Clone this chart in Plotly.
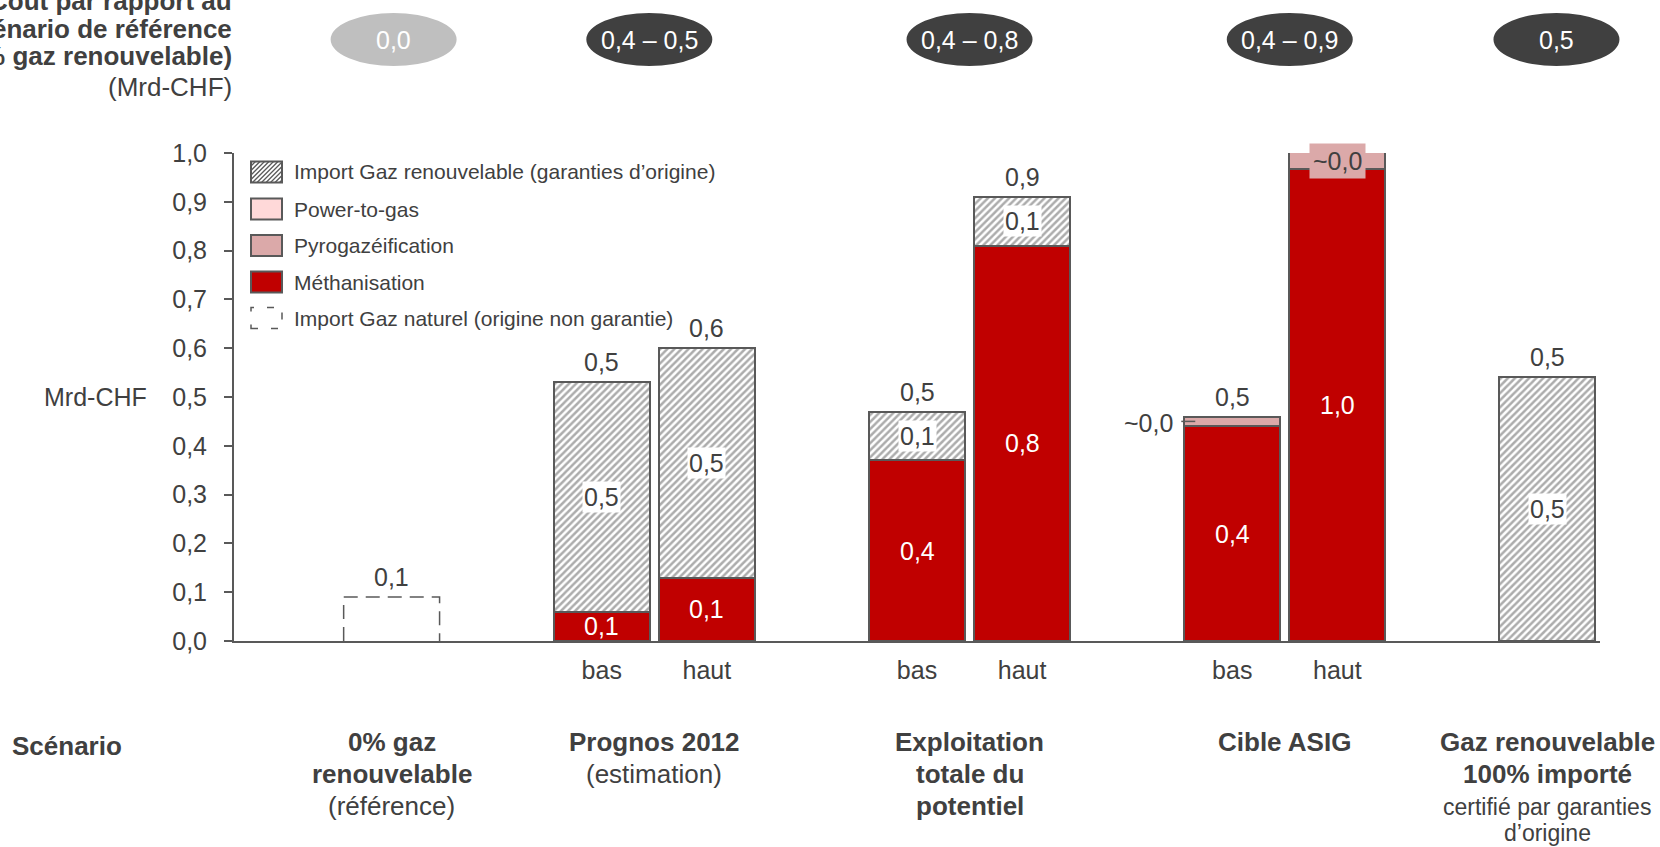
import plotly.graph_objects as go

# ---------------------------------------------------------------- data
bar_x = [2, 3, 5, 6, 8, 9, 11]
bar_ticks = ["bas", "haut", "bas", "haut", "bas", "haut", ""]
methanisation = [0.06, 0.13, 0.37, 0.81, 0.44, 0.967, 0.0]
pyrogazeification = [0.0, 0.0, 0.0, 0.0, 0.02, 0.035, 0.0]
power_to_gas = [0.0, 0.0, 0.0, 0.0, 0.0, 0.0, 0.0]
import_renouvelable = [0.47, 0.47, 0.10, 0.10, 0.0, 0.0, 0.54]

ref_x = 0
import_naturel = 0.09

scenario_x = [0, 2.5, 5.5, 8.5, 11]
cost_ranges = ["0,0", "0,4 – 0,5", "0,4 – 0,8", "0,4 – 0,9", "0,5"]
scenario_lines = [
    [("<b>0% gaz</b>", 26), ("<b>renouvelable</b>", 26), ("(référence)", 26)],
    [("<b>Prognos 2012</b>", 26), ("(estimation)", 26)],
    [("<b>Exploitation</b>", 26), ("<b>totale du</b>", 26), ("<b>potentiel</b>", 26)],
    [("<b>Cible ASIG</b>", 26)],
    [("<b>Gaz renouvelable</b>", 26), ("<b>100% importé</b>", 26),
     ("certifié par garanties", 23), ("d’origine", 23)],
]
legend_items = [
    "Import Gaz renouvelable (garanties d’origine)",
    "Power-to-gas",
    "Pyrogazéification",
    "Méthanisation",
    "Import Gaz naturel (origine non garantie)",
]

# ---------------------------------------------------------------- geometry / style
W, H = 1660, 847
ML, MR, MT, MB = 234, 60, 153, 206
PLOT_W = W - ML - MR
PLOT_H = H - MT - MB
X_RANGE = [-1.5, 11.5]
SLOT_PX = PLOT_W / (X_RANGE[1] - X_RANGE[0])
BW = 0.913

FONT = "Liberation Sans, Arial, sans-serif"
TXT = "#404040"
EDGE = "#595959"
RED = "#C00000"
PYRO_C = "#DBA9A9"
P2G_C = "#FFD9D9"
HATCH_FG = "#5A5A5A"
DARK_PILL = "#404040"
LIGHT_PILL = "#BFBFBF"


def px(xpix):
    return (xpix - ML) / PLOT_W


def py(ypix):
    return (H - MB - ypix) / PLOT_H


def fmt(v):
    s = f"{v:.1f}".replace(".", ",")
    return "~" + s if s == "0,0" else s


def nz(vals):
    return [v if v > 0 else None for v in vals]


def label(x, y, text, size=25, color=TXT, xanchor="center", yanchor="middle",
          xref="x", yref="y", **kw):
    return dict(x=x, y=y, text=text, xref=xref, yref=yref, showarrow=False,
                xanchor=xanchor, yanchor=yanchor,
                font=dict(size=size, color=color, family=FONT), **kw)


hatch = dict(shape="/", fgcolor=HATCH_FG, bgcolor="white", size=5, solidity=0.5)
outline = dict(color=EDGE, width=2)

fig = go.Figure()
fig.add_trace(go.Bar(x=bar_x, y=nz(methanisation), width=BW, name=legend_items[3],
                     marker=dict(color=RED, line=outline), cliponaxis=False))
fig.add_trace(go.Bar(x=bar_x, y=nz(pyrogazeification), width=BW, name=legend_items[2],
                     marker=dict(color=PYRO_C, line=outline), cliponaxis=False))
fig.add_trace(go.Bar(x=bar_x, y=nz(power_to_gas), width=BW, name=legend_items[1],
                     marker=dict(color=P2G_C, line=outline), cliponaxis=False))
fig.add_trace(go.Bar(x=bar_x, y=nz(import_renouvelable), width=BW, name=legend_items[0],
                     marker=dict(color="white", pattern=hatch, line=outline),
                     cliponaxis=False))
# open dashed box for the reference scenario
fig.add_trace(go.Scatter(
    x=[ref_x - BW / 2, ref_x - BW / 2, ref_x + BW / 2, ref_x + BW / 2],
    y=[0, import_naturel, import_naturel, 0],
    mode="lines", name=legend_items[4],
    line=dict(color=EDGE, width=1.5, dash="14px,8px"), cliponaxis=False))

ann = []
shapes = []

# ---------------------------------------------------------------- value labels
for i, x in enumerate(bar_x):
    base = 0.0
    segs = [(methanisation[i], "red"), (pyrogazeification[i], "pyro"),
            (power_to_gas[i], "p2g"), (import_renouvelable[i], "hatch")]
    for v, kind in segs:
        if v <= 0:
            continue
        mid = base + v / 2
        if kind == "red":
            ann.append(label(x, mid, fmt(v), color="white"))
        elif kind == "hatch":
            ann.append(label(x, mid, fmt(v), bgcolor="white", borderpad=1))
        elif kind == "pyro":
            if v < 0.03:
                # thin slice: label beside the bar with a short leader
                xl = x - BW / 2
                ann.append(label(xl, mid, fmt(v), xanchor="right", xshift=-9, yshift=-2))
                shapes.append(dict(type="line", xref="x", yref="y",
                                   x0=xl - 3 / SLOT_PX, x1=xl + 11 / SLOT_PX,
                                   y0=mid, y1=mid, line=dict(color=EDGE, width=1.5)))
            else:
                ann.append(label(x, mid, fmt(v), bgcolor=PYRO_C, borderpad=3))
        base += v
    ann.append(label(x, base, fmt(base),
                     yshift=20 if pyrogazeification[i] < 0.03 else 23))

ann.append(label(ref_x, import_naturel, fmt(import_naturel), yshift=20))

# ---------------------------------------------------------------- cost pills on top
pill_dx = [2, -5, 0, 5, 9]
for k, (sx, txt) in enumerate(zip(scenario_x, cost_ranges)):
    cx = ML + (sx - X_RANGE[0]) * SLOT_PX + pill_dx[k]
    shapes.append(dict(type="circle", xref="paper", yref="paper",
                       x0=px(cx - 63), x1=px(cx + 63), y0=py(66), y1=py(13),
                       fillcolor=LIGHT_PILL if k == 0 else DARK_PILL,
                       line=dict(width=0)))
    ann.append(label(px(cx), py(40), txt, color="white", xref="paper", yref="paper"))

# ---------------------------------------------------------------- scenario names
for k, (sx, lines) in enumerate(zip(scenario_x, scenario_lines)):
    cx = ML + (sx - X_RANGE[0]) * SLOT_PX
    yy = 742
    for j, (t, size) in enumerate(lines):
        if j > 0:
            prev = lines[j - 1][1]
            yy += 32 if (size >= 26 and prev >= 26) else (33 if prev >= 26 else 26)
        ann.append(label(px(cx), py(yy), t, size=size, xref="paper", yref="paper"))
ann.append(label(px(10), py(746), "<b>Scénario</b>", size=26, xanchor="left",
                 xref="paper", yref="paper"))

# ---------------------------------------------------------------- axis title block
title_lines = [("<b>Coût par rapport au</b>", 1), ("<b>scénario de référence</b>", 29),
               ("<b>(0% gaz renouvelable)</b>", 56), ("(Mrd-CHF)", 87)]
for t, yy in title_lines:
    ann.append(label(px(234), py(yy), t, size=26, xanchor="right",
                     xref="paper", yref="paper"))
ann.append(label(px(149), 0.5, "Mrd-CHF", xanchor="right", xref="paper", yref="y"))

# ---------------------------------------------------------------- legend
rows_y = [172, 209, 245.5, 282, 318]
sx0, sx1 = 251, 282
for r, (name, yc) in enumerate(zip(legend_items, rows_y)):
    y_top, y_bot = yc - 10.5, yc + 10.5
    if r == 0:
        shapes.append(dict(type="rect", xref="paper", yref="paper",
                           x0=px(sx0), x1=px(sx1), y0=py(y_bot), y1=py(y_top),
                           fillcolor="white", line=dict(width=0)))
        hgt = y_bot - y_top
        segs = []
        c = sx0 - hgt
        while c < sx1:
            tl = max(0.0, sx0 - c)
            tu = min(hgt, sx1 - c)
            if tl < tu:
                segs.append(f"M{px(c + tl):.5f},{py(y_bot - tl):.5f}"
                            f"L{px(c + tu):.5f},{py(y_bot - tu):.5f}")
            c += 4.5
        shapes.append(dict(type="path", xref="paper", yref="paper", path="".join(segs),
                           line=dict(color=HATCH_FG, width=1.3)))
        shapes.append(dict(type="rect", xref="paper", yref="paper",
                           x0=px(sx0), x1=px(sx1), y0=py(y_bot), y1=py(y_top),
                           line=dict(color=EDGE, width=2)))
    elif r in (1, 2, 3):
        fill = [None, P2G_C, PYRO_C, RED][r]
        shapes.append(dict(type="rect", xref="paper", yref="paper",
                           x0=px(sx0), x1=px(sx1), y0=py(y_bot), y1=py(y_top),
                           fillcolor=fill, line=dict(color=EDGE, width=2)))
    else:
        shapes.append(dict(type="rect", xref="paper", yref="paper",
                           x0=px(sx0), x1=px(sx1), y0=py(y_bot), y1=py(y_top),
                           line=dict(color=EDGE, width=1.5, dash="7px,13px")))
    ann.append(label(px(292), py(yc), name, size=21, xanchor="left",
                     xref="paper", yref="paper"))

fig.update_layout(
    width=W, height=H,
    margin=dict(l=ML, r=MR, t=MT, b=MB, pad=0),
    barmode="stack",
    showlegend=False,
    plot_bgcolor="white", paper_bgcolor="white",
    separators=", ",
    font=dict(family=FONT, color=TXT, size=25),
    annotations=ann,
    shapes=shapes,
    xaxis=dict(range=X_RANGE, tickmode="array", tickvals=bar_x[:-1],
               ticktext=bar_ticks[:-1], ticks="", showgrid=False, zeroline=False,
               showline=True, linecolor=EDGE, linewidth=2,
               tickfont=dict(size=25, color=TXT), ticklabelstandoff=6),
    yaxis=dict(range=[0, 1.0], tickmode="array",
               tickvals=[i / 10 for i in range(11)], tickformat=".1f",
               ticks="outside", ticklen=8, tickwidth=2, tickcolor=EDGE,
               showgrid=False, zeroline=False, showline=True, linecolor=EDGE,
               linewidth=2, tickfont=dict(size=25, color=TXT), ticklabelstandoff=12),
)

fig.write_html("out.html")
